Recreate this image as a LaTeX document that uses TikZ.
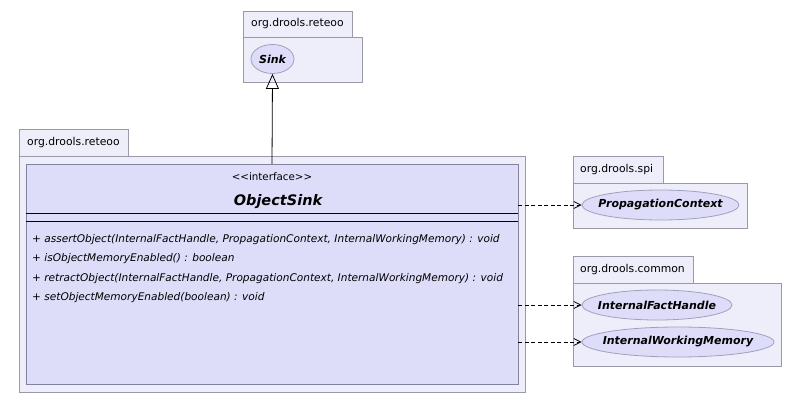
\documentclass[tikz,border=0pt]{standalone}
\usepackage{fontspec}
\setmainfont[Ligatures=NoCommon]{DejaVu Sans}
\usetikzlibrary{arrows.meta,shapes.geometric}
\definecolor{pkgfill}{RGB}{238,238,250}
\definecolor{pkgline}{RGB}{153,153,170}
\definecolor{clsfill}{RGB}{221,221,250}
\definecolor{clsline}{RGB}{130,130,160}
\definecolor{ellfill}{RGB}{221,221,250}
\definecolor{ellline}{RGB}{160,160,190}
\tikzset{
  pkgbox/.style={draw=pkgline, fill=pkgfill, line width=0.8pt},
  pkglabel/.style={font=\fontsize{10.8}{12}\selectfont, inner sep=0pt, anchor=west},
  clsbox/.style={draw=clsline, fill=clsfill, line width=0.8pt},
  ellnode/.style={ellipse, draw=ellline, fill=ellfill, line width=0.8pt, inner sep=0pt},
  elltext/.style={inner sep=0pt, font=\fontsize{11}{13}\selectfont\bfseries\itshape},
  method/.style={font=\fontsize{10.55}{13}\selectfont\itshape, inner sep=0pt, anchor=west},
  dep/.style={dash pattern=on 4pt off 2.5pt, line width=0.8pt, -{Straight Barb[length=7pt,width=7pt,line width=0.8pt]}},
  gen/.style={line width=0.8pt, -{Triangle[open,length=15pt,width=13pt,line width=0.8pt]}}
}
\begin{document}
\begin{tikzpicture}[x=1pt,y=-1pt]
\useasboundingbox (0,0) rectangle (802,403);
% top package
\draw[pkgbox] (243,11) rectangle (352,37);
\draw[pkgbox] (243,37) rectangle (362,82);
\node[pkglabel] (p1) at (251,24) {org.drools.reteoo};
\node[ellnode, minimum width=43pt, minimum height=29pt] (sink) at (272.5,59) {};
\node[elltext] (sinkt) at (sink.center) {Sink};
% main package
\draw[pkgbox] (19,129) rectangle (128,156);
\draw[pkgbox] (19,156) rectangle (525,392);
\node[pkglabel] (p2) at (27,142.5) {org.drools.reteoo};
\draw[clsbox] (26,164) rectangle (518,384);
\coordinate (clstop) at (272,164);
\node[font=\fontsize{10.3}{12}\selectfont, inner sep=0pt] (st) at (272,177) {{<}{<}interface{>}{>}};
\node[font=\fontsize{14.5}{16}\selectfont\bfseries\itshape, inner sep=0pt] (name) at (278,202) {ObjectSink};
\draw[line width=0.8pt] (26,213) -- (518,213);
\draw[line width=0.8pt] (26,221) -- (518,221);
\node[method] (m1) at (32,240) {+ assertObject(InternalFactHandle, PropagationContext, InternalWorkingMemory) : void};
\node[method] (m2) at (32,259) {+ isObjectMemoryEnabled() : boolean};
\node[method] (m3) at (32,279) {+ retractObject(InternalFactHandle, PropagationContext, InternalWorkingMemory) : void};
\node[method] (m4) at (32,298) {+ setObjectMemoryEnabled(boolean) : void};
% spi package
\draw[pkgbox] (573,156) rectangle (663,183);
\draw[pkgbox] (573,183) rectangle (747,228);
\node[pkglabel] (p3) at (580,169.5) {org.drools.spi};
\node[ellnode, minimum width=157pt, minimum height=30pt] (pc) at (660.5,205) {};
\node[elltext] (pct) at (pc.center) {PropagationContext};
% common package
\draw[pkgbox] (573,256) rectangle (693,283);
\draw[pkgbox] (573,283) rectangle (781,366);
\node[pkglabel] (p4) at (580,269.5) {org.drools.common};
\node[ellnode, minimum width=150pt, minimum height=30pt] (ifh) at (657,305) {};
\node[elltext] (ifht) at (ifh.center) {InternalFactHandle};
\node[ellnode, minimum width=192pt, minimum height=30pt] (iwm) at (678,342) {};
\node[elltext] (iwmt) at (iwm.center) {InternalWorkingMemory};
% connectors
\draw[gen] (clstop) -- (sink.south);
\coordinate (s1) at (518,205);
\coordinate (s2) at (518,305);
\coordinate (s3) at (518,342);
\draw[dep] (s1) -- (pc.west);
\draw[dep] (s2) -- (ifh.west);
\draw[dep] (s3) -- (iwm.west);
\end{tikzpicture}
\end{document}
